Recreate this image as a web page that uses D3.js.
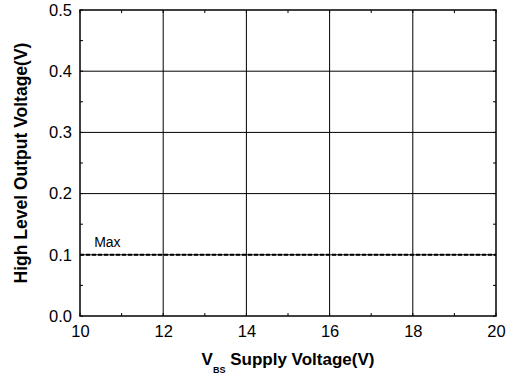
<!DOCTYPE html>
<html>
<head>
<meta charset="utf-8">
<script src="https://cdn.jsdelivr.net/npm/d3@7"></script>
<style>
  html, body { margin: 0; padding: 0; background: #fff; }
  svg { display: block; font-family: "Liberation Sans", Arial, sans-serif; }
</style>
</head>
<body>
<svg id="chart" width="508" height="376"></svg>
<script>
// Axis ranges and ticks
const xDomain = [10, 20];
const yDomain = [0, 0.5];
const xTicks = [10, 12, 14, 16, 18, 20];
const yTicks = [0, 0.1, 0.2, 0.3, 0.4, 0.5];
const xMinorTicks = [11, 13, 15, 17, 19];
const yMinorTicks = [0.05, 0.15, 0.25, 0.35, 0.45];

// Limit line: maximum high level output voltage
const maxLineX = [10, 20];
const maxLineY = [0.1, 0.1];
const maxLabel = "Max";

const svg = d3.select("#chart");
const m = { left: 80, right: 12, top: 10, bottom: 60 };
const W = 508, H = 376;
const x = d3.scaleLinear().domain(xDomain).range([m.left, W - m.right]);
const y = d3.scaleLinear().domain(yDomain).range([H - m.bottom, m.top]);

// Grid
const grid = svg.append("g").attr("stroke", "#000").attr("stroke-width", 1);
grid.selectAll("line.vx").data(xTicks.slice(1, -1)).join("line")
  .attr("x1", d => x(d)).attr("x2", d => x(d))
  .attr("y1", y(yDomain[0])).attr("y2", y(yDomain[1]));
grid.selectAll("line.hy").data(yTicks.slice(1, -1)).join("line")
  .attr("y1", d => y(d)).attr("y2", d => y(d))
  .attr("x1", x(xDomain[0])).attr("x2", x(xDomain[1]));

// Axes (ticks pointing inward)
const tickLen = 3;
const bottom = svg.append("g").attr("transform", `translate(0,${y(0)})`)
  .call(d3.axisBottom(x).tickValues(xTicks).tickSize(0).tickPadding(7).tickFormat(d3.format("d")));
const left = svg.append("g").attr("transform", `translate(${x(10)},0)`)
  .call(d3.axisLeft(y).tickValues(yTicks).tickSize(0).tickPadding(8).tickFormat(d3.format(".1f")));
[bottom, left].forEach(g => {
  g.select(".domain").remove();
  g.selectAll("text").attr("font-size", 16.5).attr("fill", "#000")
    .attr("font-family", "Liberation Sans, Arial, sans-serif");
});
bottom.selectAll("text").attr("dy", 0).attr("y", 21);

// Minor ticks on all four sides
const ticks = svg.append("g").attr("stroke", "#000").attr("stroke-width", 1);
xMinorTicks.concat(xTicks).forEach(v => {
  ticks.append("line").attr("x1", x(v)).attr("x2", x(v)).attr("y1", y(0)).attr("y2", y(0) - tickLen);
  ticks.append("line").attr("x1", x(v)).attr("x2", x(v)).attr("y1", y(0.5)).attr("y2", y(0.5) + tickLen);
});
yMinorTicks.concat(yTicks).forEach(v => {
  ticks.append("line").attr("y1", y(v)).attr("y2", y(v)).attr("x1", x(10)).attr("x2", x(10) + tickLen);
  ticks.append("line").attr("y1", y(v)).attr("y2", y(v)).attr("x1", x(20)).attr("x2", x(20) - tickLen);
});

// Frame
svg.append("rect")
  .attr("x", x(10)).attr("y", y(0.5))
  .attr("width", x(20) - x(10)).attr("height", y(0) - y(0.5))
  .attr("fill", "none").attr("stroke", "#000").attr("stroke-width", 1.5);

// Max limit line
const line = d3.line().x(d => x(d[0])).y(d => y(d[1]));
svg.append("path")
  .datum(maxLineX.map((v, i) => [v, maxLineY[i]]))
  .attr("d", line)
  .attr("fill", "none").attr("stroke", "#000").attr("stroke-width", 2)
  .attr("stroke-dasharray", "4,2");
svg.append("text")
  .attr("x", x(10.34)).attr("y", y(maxLineY[0]) - 8)
  .attr("font-size", 14).text(maxLabel);

// Axis titles
const xt = svg.append("text")
  .attr("x", 288).attr("y", 365)
  .attr("text-anchor", "middle").attr("font-size", 17).attr("font-weight", "bold");
xt.append("tspan").text("V");
xt.append("tspan").attr("font-size", 9).attr("dy", 8).text("BS");
xt.append("tspan").attr("dy", -8).text(" Supply Voltage(V)");

svg.append("text")
  .attr("transform", `translate(27,${(y(0) + y(0.5)) / 2}) rotate(-90)`)
  .attr("text-anchor", "middle").attr("font-size", 17.5).attr("font-weight", "bold")
  .text("High Level Output Voltage(V)");
</script>
</body>
</html>
